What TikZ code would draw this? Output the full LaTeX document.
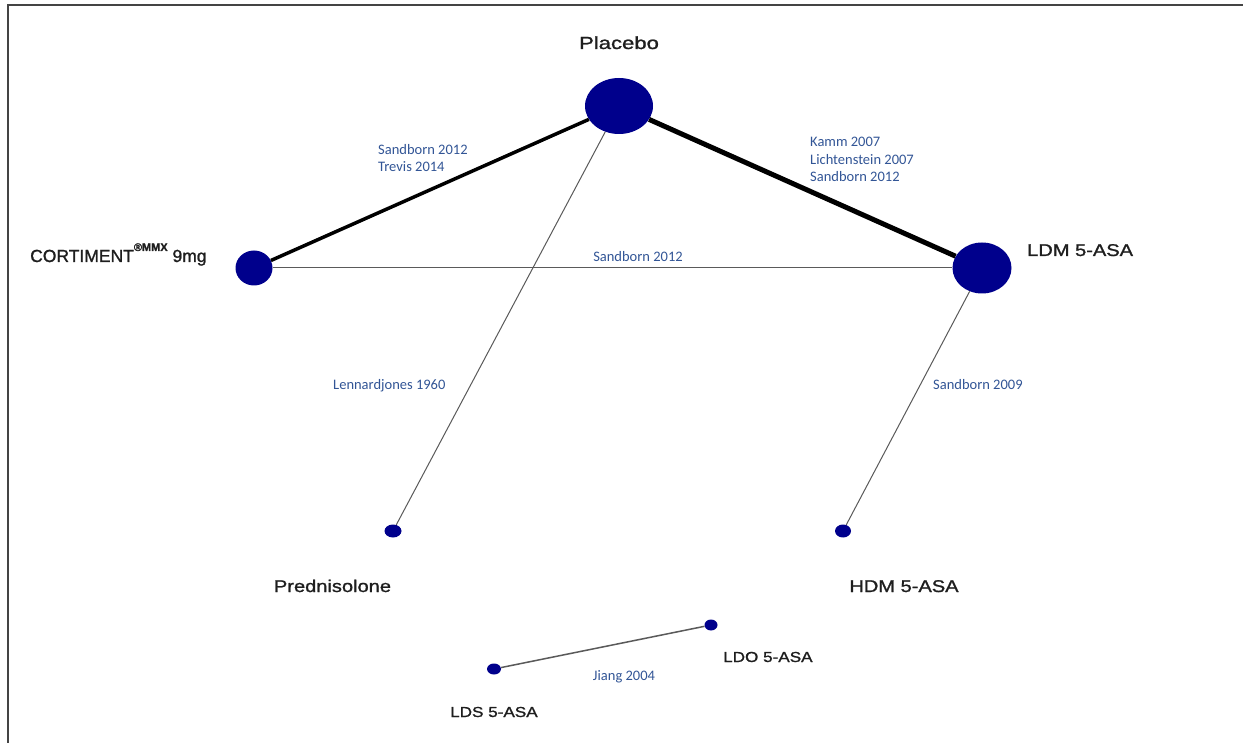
\documentclass[tikz,border=0pt]{standalone}
\usepackage{fontspec}
\usetikzlibrary{shapes.geometric}
\newfontfamily\labfont[FakeStretch=1.18,FakeBold=1.2]{Liberation Sans}
\newfontfamily\labfontn[FakeBold=1.2]{Liberation Sans}
\newfontfamily\studyfont{Carlito}
\definecolor{netblue}{RGB}{0,0,140}
\definecolor{studyblue}{RGB}{50,85,150}
\definecolor{framegray}{RGB}{68,68,68}
\definecolor{thingray}{RGB}{90,90,90}
\definecolor{labgray}{RGB}{30,30,30}
\tikzset{
  trt/.style={ellipse, fill=netblue, draw=none, inner sep=0pt},
  biglab/.style={font=\labfont\fontsize{17}{20}\selectfont, text=labgray, inner sep=0pt},
  smalllab/.style={font=\labfont\fontsize{14.5}{17}\selectfont, text=labgray, inner sep=0pt},
  study/.style={font=\studyfont\fontsize{14.5}{17.5}\selectfont, text=studyblue, inner sep=0pt, align=left},
  thick5/.style={line width=5pt, black},
  thick3/.style={line width=3.5pt, black},
  thinline/.style={line width=1pt, thingray},
  midline/.style={line width=1.5pt, thingray},
  framel/.style={line width=2pt, framegray},
}
\begin{document}
\begin{tikzpicture}[x=1pt,y=-1pt]
\useasboundingbox (0,0) rectangle (1243,743);
\fill[white] (0,0) rectangle (1243,743);
% frame
\coordinate (ftr) at (1243,5);
\coordinate (ftl) at (8,5);
\coordinate (fbl) at (8,743);
\draw[framel] (ftr) -- (ftl) -- (fbl);

% treatment nodes
\node[trt, minimum width=68pt, minimum height=56pt] (pla) at (619,106) {};
\node[trt, minimum width=37pt, minimum height=35pt] (cor) at (254,268) {};
\node[trt, minimum width=59pt, minimum height=51pt] (ldm) at (982,268) {};
\node[trt, minimum width=17pt, minimum height=13pt] (pre) at (393,531) {};
\node[trt, minimum width=16pt, minimum height=13pt] (hdm) at (843,531) {};
\node[trt, minimum width=14pt, minimum height=11pt] (lds) at (494,669) {};
\node[trt, minimum width=13pt, minimum height=11pt] (ldo) at (711,625) {};

% connectors
\draw[thick5] (pla) -- (ldm);
\draw[thick3] (pla) -- (cor);
\draw[thinline] (cor) -- (ldm);
\draw[thinline] (pla) -- (pre);
\draw[thinline] (ldm) -- (hdm);
\draw[midline] (lds) -- (ldo);

% treatment labels
\node[biglab, anchor=base, font=\labfont\fontsize{17.5}{20}\selectfont, xscale=1.07, transform shape] (tpla) at (619,49) {Placebo};
\node[biglab, anchor=base west, font=\labfontn\fontsize{17.5}{20}\selectfont] (tcor) at (30,262)
  {CORTIMENT\raisebox{11pt}{\fontsize{11}{11}\selectfont\bfseries ®MMX} 9mg};
\node[biglab, anchor=base west] (tldm) at (1027,256) {LDM 5-ASA};
\node[biglab, anchor=base] (tpre) at (332.5,592) {Prednisolone};
\node[biglab, anchor=base] (thdm) at (904,592) {HDM 5-ASA};
\node[smalllab, anchor=base west] (tldo) at (723,662) {LDO 5-ASA};
\node[smalllab, anchor=base west] (tlds) at (450,717) {LDS 5-ASA};

% study labels
\node[study, anchor=north west] (s1) at (378,144) {Sandborn 2012\\Trevis 2014};
\node[study, anchor=north west] (s2) at (810,137) {Kamm 2007\\Lichtenstein 2007\\Sandborn 2012};
\node[study, anchor=base] (s3) at (638,262) {Sandborn 2012};
\node[study, anchor=base west] (s4) at (333,390) {Lennardjones 1960};
\node[study, anchor=base west] (s5) at (933,390) {Sandborn 2009};
\node[study, anchor=base] (s6) at (624,680) {Jiang 2004};
\end{tikzpicture}
\end{document}
